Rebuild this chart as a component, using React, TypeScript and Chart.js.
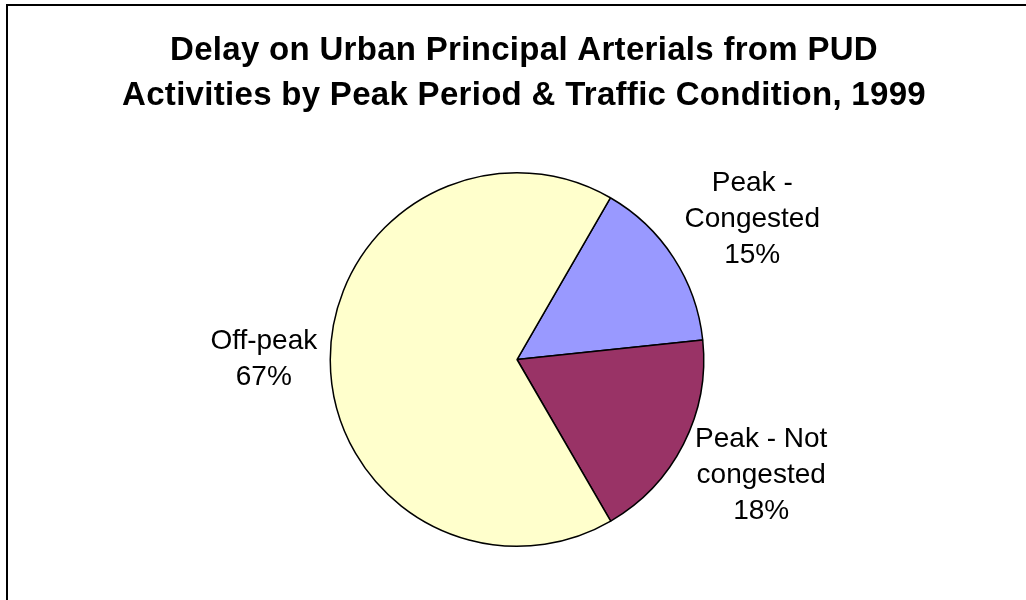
import React, { useEffect, useRef } from "react";
import { Chart, registerables } from "chart.js";

Chart.register(...registerables);

const titleLines = [
  "Delay on Urban Principal Arterials from PUD",
  "Activities by Peak Period & Traffic Condition, 1999",
];
const categories = ["Peak -\nCongested", "Peak - Not\ncongested", "Off-peak"];
const values = [15.0, 18.3, 66.7];
const colors = ["#9999FF", "#993366", "#FFFFCC"];

const FONT = '"Liberation Sans", Arial, sans-serif';

const framePlugin = {
  id: "frame",
  afterDraw(chart: any) {
    const ctx = chart.ctx;
    ctx.save();
    ctx.strokeStyle = "#000";
    ctx.lineWidth = 2;
    ctx.strokeRect(7, 5, chart.width + 20, chart.height + 20);
    ctx.fillStyle = "#000";
    ctx.font = `bold 33px ${FONT}`;
    (ctx as any).letterSpacing = "0.3px";
    ctx.textAlign = "center";
    ctx.textBaseline = "alphabetic";
    titleLines.forEach((t, i) => ctx.fillText(t, 524, 60 + i * 45));
    ctx.restore();
  },
};

const labelPlugin = {
  id: "sliceLabels",
  afterDatasetsDraw(chart: any) {
    const ctx = chart.ctx;
    const meta = chart.getDatasetMeta(0);
    const data = chart.data.datasets[0].data as number[];
    const total = data.reduce((a, b) => a + b, 0);
    ctx.save();
    ctx.font = `28px ${FONT}`;
    ctx.fillStyle = "#000";
    ctx.textAlign = "center";
    ctx.textBaseline = "alphabetic";
    const lineH = 36;
    const cap = 20;
    const gap = 13;
    meta.data.forEach((arc: any, i: number) => {
      const p = arc.getProps(["x", "y", "startAngle", "endAngle", "outerRadius"], true);
      const mid = (p.startAngle + p.endAngle) / 2;
      const dx = Math.cos(mid);
      const dy = Math.sin(mid);
      const lines = String(chart.data.labels[i]).split("\n");
      lines.push(Math.round((data[i] / total) * 100) + "%");
      const w = Math.max(...lines.map((l: string) => ctx.measureText(l).width));
      const h = (lines.length - 1) * lineH + cap;
      const r = p.outerRadius + gap;
      const cx = p.x + dx * r + Math.sign(dx) * w / 2;
      const cy = p.y + dy * r + dy * h * 0.62;
      const top = cy - h / 2 + cap - 3;
      lines.forEach((l: string, k: number) => ctx.fillText(l, cx, top + k * lineH));
    });
    ctx.restore();
  },
};

export default function App() {
  const ref = useRef<HTMLCanvasElement>(null);
  useEffect(() => {
    if (!ref.current) return;
    const chart = new Chart(ref.current, {
      type: "pie",
      data: {
        labels: categories,
        datasets: [
          {
            data: values,
            backgroundColor: colors,
            borderColor: "#000",
            borderWidth: 1.5,
          },
        ],
      },
      options: {
        responsive: false,
        animation: false,
        devicePixelRatio: 1,
        rotation: 30,
        layout: { padding: { top: 172, bottom: 53, left: 100, right: 92 } },
        plugins: {
          legend: { display: false },
          title: { display: false },
          tooltip: { enabled: false },
        },
      },
      plugins: [labelPlugin, framePlugin],
    });
    return () => chart.destroy();
  }, []);
  return (
    <div style={{ width: 1026, height: 600, overflow: "hidden", background: "#fff" }}>
      <style>{`body{margin:0}`}</style>
      <canvas ref={ref} width={1026} height={600} style={{ display: "block" }} />
    </div>
  );
}
